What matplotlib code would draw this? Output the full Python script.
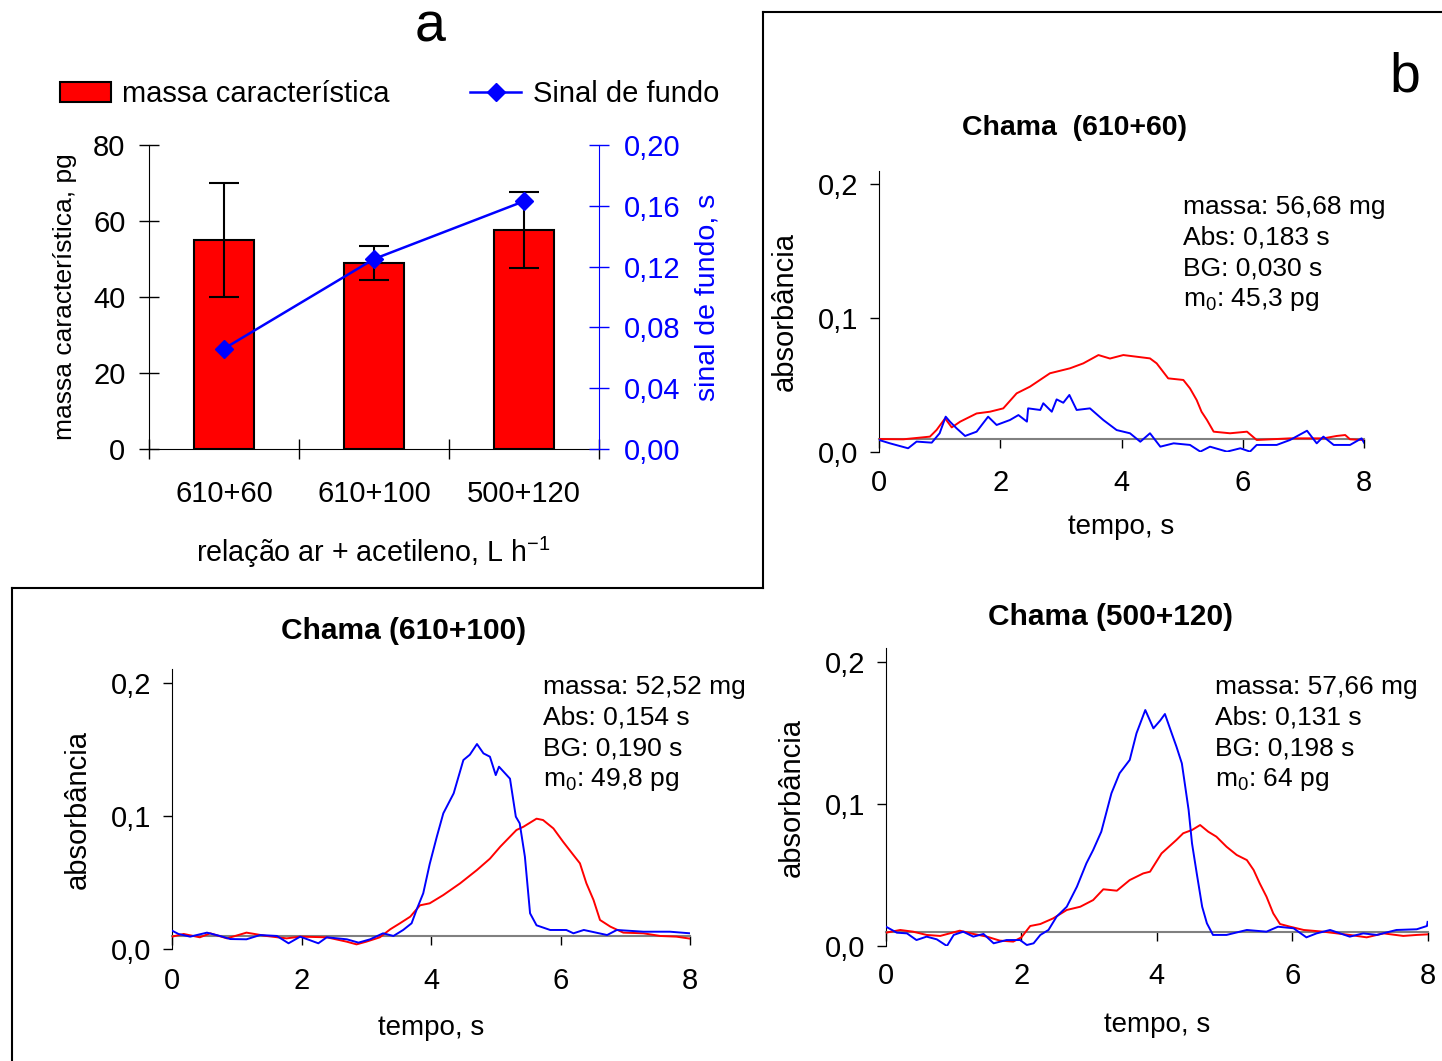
import matplotlib.pyplot as plt
from matplotlib.lines import Line2D
from matplotlib.patches import Patch

plt.rcParams['font.family'] = ['Liberation Sans', 'DejaVu Sans']
plt.rcParams['mathtext.fontset'] = 'custom'
plt.rcParams['mathtext.rm'] = 'Liberation Sans'
plt.rcParams['mathtext.it'] = 'Liberation Sans:italic'
plt.rcParams['mathtext.bf'] = 'Liberation Sans:bold'

# ---- panel a data ----
categorias = ['610+60', '610+100', '500+120']
massa = [55.0, 49.0, 57.5]
massa_err = [15.0, 4.5, 10.0]
sinal_fundo = [0.066, 0.125, 0.163]

# ---- panel b: chama 610+60 ----
b_t_red = [0, 0.4, 0.84, 0.95, 1.09, 1.2, 1.34, 1.61, 1.83, 2.05, 2.27, 2.49, 2.82, 3.15, 3.37, 3.62,
           3.81, 4.03, 4.47, 4.58, 4.77, 5.02, 5.13, 5.24, 5.32, 5.41, 5.52, 5.79, 6.07, 6.23, 6.78,
           7.33, 7.55, 7.69, 7.77, 7.99]
b_red = [0.0099, 0.0097, 0.0117, 0.0167, 0.0253, 0.0186, 0.0229, 0.029, 0.0303, 0.0328, 0.044, 0.049,
         0.059, 0.0627, 0.0664, 0.0726, 0.070, 0.0726, 0.0701, 0.0664, 0.0552, 0.054, 0.0477, 0.039,
         0.0303, 0.0241, 0.0154, 0.0142, 0.0154, 0.0092, 0.0104, 0.0104, 0.0122, 0.0129, 0.0097, 0.0092]
b_t_blue = [0, 0.18, 0.48, 0.62, 0.87, 1.0, 1.1, 1.17, 1.28, 1.42, 1.61, 1.8, 1.94, 2.16, 2.3, 2.44,
            2.46, 2.66, 2.71, 2.85, 2.93, 3.04, 3.14, 3.26, 3.48, 3.7, 3.92, 4.14, 4.31, 4.47, 4.64,
            4.86, 5.13, 5.3, 5.46, 5.74, 5.96, 6.12, 6.23, 6.56, 6.78, 7.06, 7.22, 7.33, 7.5, 7.77,
            7.96, 8.0]
b_blue = [0.0092, 0.0067, 0.003, 0.008, 0.0072, 0.0142, 0.0266, 0.0229, 0.0179, 0.0122, 0.0154, 0.0266,
          0.0204, 0.0241, 0.0278, 0.0229, 0.0328, 0.0316, 0.0366, 0.0303, 0.0395, 0.037, 0.0428, 0.0316,
          0.0328, 0.0241, 0.0166, 0.0142, 0.0079, 0.0142, 0.0042, 0.0067, 0.0055, 0.0005, 0.0042, 0.0005,
          0.003, 0.0005, 0.0055, 0.0055, 0.0092, 0.0161, 0.0067, 0.0117, 0.0055, 0.0055, 0.0104, 0.0072]

# ---- panel c: chama 610+100 ----
c_t_red = [0, 0.18, 0.43, 0.59, 0.85, 1.15, 1.46, 1.77, 1.98, 2.39, 2.7, 2.85, 3.0, 3.21, 3.37, 3.52,
           3.68, 3.83, 3.98, 4.19, 4.45, 4.71, 4.91, 5.07, 5.22, 5.32, 5.43, 5.63, 5.73, 5.89, 6.04,
           6.2, 6.3, 6.4, 6.51, 6.61, 6.77, 6.97, 7.28, 7.54, 7.79, 8.0]
c_red = [0.0095, 0.0115, 0.009, 0.012, 0.0082, 0.0125, 0.01, 0.0082, 0.0095, 0.009, 0.0057, 0.0037,
         0.0057, 0.009, 0.015, 0.0195, 0.0245, 0.033, 0.0345, 0.0407, 0.0495, 0.0595, 0.068, 0.077,
         0.0845, 0.0895, 0.092, 0.098, 0.097, 0.0907, 0.0807, 0.0707, 0.0645, 0.0495, 0.037, 0.022,
         0.017, 0.0125, 0.012, 0.01, 0.0095, 0.008]
c_t_blue = [0, 0.1, 0.28, 0.54, 0.74, 0.9, 1.15, 1.36, 1.62, 1.8, 1.98, 2.26, 2.39, 2.7, 2.88, 3.06,
            3.26, 3.42, 3.57, 3.7, 3.78, 3.88, 3.98, 4.09, 4.19, 4.35, 4.5, 4.6, 4.71, 4.81, 4.91,
            5.0, 5.05, 5.22, 5.31, 5.37, 5.45, 5.53, 5.63, 5.84, 6.09, 6.2, 6.36, 6.72, 6.87, 7.28,
            7.69, 8.0]
c_blue = [0.014, 0.0115, 0.0095, 0.0125, 0.01, 0.0077, 0.0075, 0.0107, 0.01, 0.0045, 0.0095, 0.0045,
          0.009, 0.0075, 0.005, 0.0075, 0.012, 0.01, 0.0145, 0.0195, 0.03, 0.042, 0.064, 0.0845, 0.102,
          0.117, 0.142, 0.146, 0.154, 0.147, 0.1445, 0.1307, 0.137, 0.128, 0.0995, 0.0945, 0.0695,
          0.027, 0.018, 0.0145, 0.0145, 0.012, 0.0145, 0.0107, 0.0145, 0.0132, 0.0132, 0.012]

# ---- panel d: chama 500+120 ----
d_t_red = [0, 0.21, 0.4, 0.6, 0.8, 1.09, 1.29, 1.49, 1.68, 1.88, 2.0, 2.13, 2.28, 2.47, 2.67, 2.87,
           3.06, 3.21, 3.41, 3.6, 3.8, 3.9, 4.07, 4.29, 4.39, 4.52, 4.64, 4.76, 4.88, 5.03, 5.18,
           5.33, 5.43, 5.52, 5.62, 5.72, 5.82, 5.97, 6.17, 6.46, 6.66, 6.85, 7.1, 7.35, 7.64, 7.84, 8.0]
d_red = [0.0094, 0.0113, 0.0101, 0.0078, 0.0071, 0.0108, 0.0085, 0.0066, 0.0038, 0.0031, 0.0061,
         0.0141, 0.0155, 0.0195, 0.0254, 0.0277, 0.0324, 0.04, 0.039, 0.0465, 0.0512, 0.0524, 0.0653,
         0.0748, 0.0795, 0.0818, 0.0853, 0.0806, 0.0771, 0.07, 0.0642, 0.0606, 0.0536, 0.0442, 0.0348,
         0.023, 0.0155, 0.0136, 0.0113, 0.0101, 0.0089, 0.0078, 0.0061, 0.0089, 0.0071, 0.0078, 0.0082]
d_t_blue = [0, 0.16, 0.31, 0.45, 0.6, 0.75, 0.9, 1.0, 1.14, 1.29, 1.44, 1.59, 1.78, 1.98, 2.08, 2.18,
            2.28, 2.4, 2.52, 2.67, 2.82, 2.96, 3.06, 3.18, 3.33, 3.45, 3.6, 3.7, 3.83, 3.95, 4.05,
            4.12, 4.22, 4.29, 4.37, 4.42, 4.47, 4.52, 4.59, 4.67, 4.74, 4.83, 5.03, 5.33, 5.62, 5.79,
            6.02, 6.21, 6.36, 6.56, 6.85, 7.05, 7.25, 7.54, 7.84, 7.99, 8.0]
d_blue = [0.0136, 0.0094, 0.0089, 0.0042, 0.0066, 0.0047, 0.0, 0.0078, 0.0101, 0.0066, 0.0085, 0.0019,
          0.0042, 0.0042, 0.0007, 0.0019, 0.0078, 0.0113, 0.0207, 0.0277, 0.0418, 0.0583, 0.0677,
          0.0806, 0.1077, 0.1218, 0.1312, 0.15, 0.1664, 0.1535, 0.159, 0.1636, 0.15, 0.1406, 0.1288,
          0.1124, 0.0959, 0.0724, 0.0512, 0.0277, 0.016, 0.0078, 0.0078, 0.0113, 0.0101, 0.0136,
          0.0125, 0.0061, 0.0089, 0.0113, 0.0066, 0.0089, 0.0078, 0.0113, 0.0118, 0.0141, 0.017]

W, H = 1442, 1061


def box(l, t, r, b):
    # pixel box -> figure fraction rect
    return [l / W, 1 - b / H, (r - l) / W, (b - t) / H]


def comma(v, nd):
    return f"{v:.{nd}f}".replace('.', ',')


fig = plt.figure(figsize=(W / 100, H / 100), dpi=100)

# ================= panel a =================
ax = fig.add_axes(box(149, 145, 599, 449))
pos = [0.5, 1.5, 2.5]
ax.bar(pos, massa, width=0.4, color='#ff0000', edgecolor='black', linewidth=1.5,
       yerr=massa_err, capsize=11,
       error_kw=dict(elinewidth=1.5, capthick=1.5, ecolor='black'), zorder=2)
ax.set_xlim(0, 3)
ax.set_ylim(0, 80)
ax.set_yticks([0, 20, 40, 60, 80])
ax.tick_params(axis='y', direction='inout', length=14, width=1, labelsize=21, pad=10)
ax.set_xticks(pos)
ax.set_xticklabels(categorias)
ax.set_xticks([0, 1, 2, 3], minor=True)
ax.tick_params(axis='x', which='major', length=0, labelsize=21, pad=22.5)
ax.tick_params(axis='x', which='minor', direction='inout', length=14, width=1)
ax.spines['top'].set_visible(False)
ax.spines['right'].set_visible(False)

ax2 = ax.twinx()
ax2.plot(pos, sinal_fundo, color='#0000ff', lw=1.8, marker='D', markersize=9, zorder=3)
ax2.set_ylim(0, 0.2)
st = [0, 0.04, 0.08, 0.12, 0.16, 0.20]
ax2.set_yticks(st)
ax2.set_yticklabels([comma(v, 2) for v in st])
ax2.tick_params(axis='y', direction='inout', length=14, width=1, labelsize=21, pad=11,
                colors='#0000ff')
for s in ['top', 'left', 'bottom']:
    ax2.spines[s].set_visible(False)
ax2.spines['right'].set_color('#0000ff')

fig.text(65 / W, 1 - 297 / H, 'massa característica, pg', rotation=90, ha='center', va='center',
         fontsize=19)
fig.text(707 / W, 1 - 297 / H, 'sinal de fundo, s', rotation=90, ha='center', va='center',
         fontsize=20.5, color='#0000ff')
fig.text(373 / W, 1 - 552 / H, 'relação ar + acetileno, L h$^{-1}$', ha='center', va='center',
         fontsize=20.6)
fig.text(430 / W, 1 - 28 / H, 'a', ha='center', va='center', fontsize=40)

handles = [Patch(facecolor='#ff0000', edgecolor='black', linewidth=1.5),
           Line2D([], [], color='#0000ff', lw=1.8, marker='D', markersize=9)]
fig.legend(handles, ['massa característica', 'Sinal de fundo'], ncol=2, frameon=False,
           loc='center left', bbox_to_anchor=(48 / W, 1 - 94 / H), fontsize=21,
           handlelength=1.75, handletextpad=0.4, columnspacing=2.75, borderaxespad=0)


# ================= trace panels =================
def trace_panel(rect, tr, red, tb, blue, title, title_xy, title_size, lines, text_xy, xlab_off):
    a = fig.add_axes(rect)
    a.plot(tr, red, color='#ff0000', lw=1.4, zorder=3)
    a.plot(tb, blue, color='#0000ff', lw=1.4, zorder=4)
    a.set_xlim(0, 8)
    a.set_ylim(0, 0.21)
    a.set_xticks([0, 2, 4, 6, 8])
    a.set_yticks([0, 0.1, 0.2])
    a.set_yticklabels([comma(v, 1) for v in [0, 0.1, 0.2]])
    a.spines['top'].set_visible(False)
    a.spines['right'].set_visible(False)
    a.spines['bottom'].set_position(('data', 0.01))
    a.spines['bottom'].set_color('#808080')
    a.spines['bottom'].set_linewidth(1.5)
    a.tick_params(axis='x', direction='out', length=6.5, width=1, color='black',
                  labelsize=21, pad=15.5)
    a.tick_params(axis='y', direction='out', length=6.5, width=1, labelsize=21, pad=8.5)
    cx = rect[0] + rect[2] / 2
    fig.text(cx, rect[1] - xlab_off / H, 'tempo, s', ha='center', va='center', fontsize=20)
    fig.text(rect[0] - 94 / W, rect[1] + rect[3] / 2, 'absorbância', rotation=90,
             ha='center', va='center', fontsize=21)
    fig.text(title_xy[0] / W, 1 - title_xy[1] / H, title, ha='center', va='center',
             fontsize=title_size, fontweight='bold')
    for i, s in enumerate(lines):
        fig.text(text_xy[0] / W, 1 - (text_xy[1] + 30.7 * i) / H, s, ha='left', va='center',
                 fontsize=19)
    return a


trace_panel(box(879, 171, 1364, 452.3), b_t_red, b_red, b_t_blue, b_blue,
            'Chama  (610+60)', (1075, 128), 20.5,
            ['massa: 56,68 mg', 'Abs: 0,183 s', 'BG: 0,030 s', 'm$_{0}$: 45,3 pg'], (1183, 207), 75)
trace_panel(box(172, 669.4, 690, 949.3), c_t_red, c_red, c_t_blue, c_blue,
            'Chama (610+100)', (404, 631), 21.5,
            ['massa: 52,52 mg', 'Abs: 0,154 s', 'BG: 0,190 s', 'm$_{0}$: 49,8 pg'], (543, 687), 79)
trace_panel(box(886, 648.2, 1427.6, 946), d_t_red, d_red, d_t_blue, d_blue,
            'Chama (500+120)', (1110, 617), 21.5,
            ['massa: 57,66 mg', 'Abs: 0,131 s', 'BG: 0,198 s', 'm$_{0}$: 64 pg'], (1215, 687), 79)

fig.text(1405 / W, 1 - 78 / H, 'b', ha='center', va='center', fontsize=40)

# frame lines separating the panels
for (x0, y0, x1, y1) in [(763, 12, 763, 588), (763, 12, 1442, 12),
                         (12, 588, 763, 588), (12, 588, 12, 1061)]:
    fig.add_artist(Line2D([x0 / W, x1 / W], [1 - y0 / H, 1 - y1 / H], color='black', lw=1.5,
                          transform=fig.transFigure))

fig.savefig('out.png', dpi=100)
